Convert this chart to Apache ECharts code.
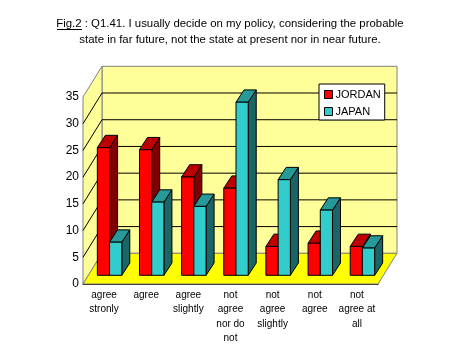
<!DOCTYPE html>
<html>
<head>
<meta charset="utf-8">
<style>
html, body { margin: 0; padding: 0; background: #fff; }
#chart { width: 463px; height: 357px; }
</style>
<script src="https://cdn.jsdelivr.net/npm/echarts@6/dist/echarts.min.js"></script>
</head>
<body>
<div id="chart"></div>
<script>
var categories = ['agree\nstronly', 'agree', 'agree\nslightly', 'not\nagree\nnor do\nnot', 'not\nagree\nslightly', 'not\nagree', 'not\nagree at\nall'];
var jordan = [23.9, 23.5, 18.4, 16.3, 5.4, 6, 5.4];
var japan = [6.2, 13.7, 12.9, 32.4, 17.9, 12.2, 5.1];
var yTicks = [0, 5, 10, 15, 20, 25, 30, 35];

var FONT = '"Liberation Sans", sans-serif';
// depth of the fake 3d box, and where the bars sit inside it
var DEPTH_X = 19, DEPTH_Y = 30.7;
var BAR_DX = 8, BAR_DY = 12.3, GAP_X = 5.5, GAP_Y = 8.7;

function poly(points, fill, stroke, width) {
    return {
        type: 'polygon',
        shape: { points: points },
        style: { fill: fill, stroke: stroke || 'none', lineWidth: width === undefined ? 1 : width }
    };
}

function line(x1, y1, x2, y2, color) {
    return {
        type: 'line',
        shape: { x1: x1, y1: y1, x2: x2, y2: y2 },
        style: { stroke: color, lineWidth: 1 }
    };
}

function renderWalls(params, api) {
    var c = params.coordSys;
    var left = c.x, right = c.x + c.width, top = c.y, bottom = c.y + c.height;
    var kids = [
        poly([[left + DEPTH_X, top - DEPTH_Y], [right + DEPTH_X, top - DEPTH_Y], [right + DEPTH_X, bottom - DEPTH_Y], [left + DEPTH_X, bottom - DEPTH_Y]], '#FFFF99', '#808080'),
        poly([[left, top], [left + DEPTH_X, top - DEPTH_Y], [left + DEPTH_X, bottom - DEPTH_Y], [left, bottom]], '#FFFF99', '#808080'),
        poly([[left, bottom], [right, bottom], [right + DEPTH_X, bottom - DEPTH_Y], [left + DEPTH_X, bottom - DEPTH_Y]], '#FFFF00', '#808080')
    ];
    yTicks.forEach(function (t) {
        if (t === 0 || t === 35) return;
        var y = api.coord([0, t])[1];
        kids.push(line(left, y, left + DEPTH_X, y - DEPTH_Y, '#000'));
        kids.push(line(left + DEPTH_X, y - DEPTH_Y, right + DEPTH_X, y - DEPTH_Y, '#000'));
    });
    return { type: 'group', children: kids };
}

function barRenderer(side, front, topFace, dark) {
    return function (params, api) {
        var idx = api.value(0);
        var base = api.coord([idx, 0]);
        var head = api.coord([idx, api.value(1)]);
        var w = api.size([1, 0])[0] * 0.29;
        var x1 = base[0] + GAP_X + (side === 0 ? -w : 0);
        var x2 = x1 + w;
        var yb = base[1] - GAP_Y;
        var yt = head[1] - GAP_Y;
        return {
            type: 'group',
            children: [
                poly([[x2, yt], [x2 + BAR_DX, yt - BAR_DY], [x2 + BAR_DX, yb - BAR_DY], [x2, yb]], dark, '#000'),
                poly([[x1, yt], [x1 + BAR_DX, yt - BAR_DY], [x2 + BAR_DX, yt - BAR_DY], [x2, yt]], topFace, '#000'),
                poly([[x1, yt], [x2, yt], [x2, yb], [x1, yb]], front, '#000')
            ]
        };
    };
}

var chart = echarts.init(document.getElementById('chart'), null, { renderer: 'canvas' });

chart.setOption({
    animation: false,
    backgroundColor: '#fff',
    textStyle: { fontFamily: FONT },
    title: {
        text: 'Fig.2 : Q1.41. I usually decide on my policy, considering the probable\nstate in far future, not the state at present nor in near future.',
        left: 230,
        top: 16,
        padding: 0,
        textAlign: 'center',
        textStyle: { fontFamily: FONT, fontSize: 11.4, fontWeight: 'normal', color: '#000', lineHeight: 16 }
    },
    legend: {
        orient: 'vertical',
        left: 319,
        top: 84,
        width: 66,
        padding: [5, 4, 3, 5],
        itemGap: 6,
        itemWidth: 8,
        itemHeight: 8,
        icon: 'rect',
        backgroundColor: '#fff',
        borderColor: '#000',
        borderWidth: 1,
        textStyle: { fontFamily: FONT, fontSize: 11, color: '#000', padding: [0, 0, 0, -2] },
        data: [
            { name: 'JORDAN', itemStyle: { color: '#FF0000', borderColor: '#000', borderWidth: 1 } },
            { name: 'JAPAN', itemStyle: { color: '#33CCCC', borderColor: '#000', borderWidth: 1 } }
        ]
    },
    grid: { left: 83, top: 97, width: 295, height: 187, containLabel: false },
    xAxis: {
        type: 'category',
        data: categories,
        axisLine: { lineStyle: { color: '#000', width: 1 } },
        axisTick: { inside: true, length: 4, alignWithLabel: false, lineStyle: { color: '#000' } },
        axisLabel: { interval: 0, color: '#000', fontFamily: FONT, fontSize: 10, lineHeight: 14.3, margin: 4 }
    },
    yAxis: {
        type: 'value',
        min: 0,
        max: 35,
        interval: 5,
        splitLine: { show: false },
        axisLine: { show: true, lineStyle: { color: '#000', width: 1 } },
        axisTick: { show: true, inside: true, length: 3, lineStyle: { color: '#000' } },
        axisLabel: { color: '#000', fontFamily: FONT, fontSize: 12, margin: 4, padding: [3, 0, 0, 0] }
    },
    graphic: [
        { type: 'line', shape: { x1: 57, y1: 29.5, x2: 82, y2: 29.5 }, style: { stroke: '#000', lineWidth: 1 }, z: 10 }
    ],
    series: [
        {
            type: 'custom',
            name: 'walls',
            z: 1,
            silent: true,
            renderItem: renderWalls,
            data: [[0, 0]],
            encode: { x: 0, y: 1 }
        },
        {
            type: 'custom',
            name: 'JORDAN',
            z: 2,
            silent: true,
            itemStyle: { color: '#FF0000' },
            renderItem: barRenderer(0, '#FF0000', '#BF0000', '#800000'),
            data: jordan.map(function (v, i) { return [i, v]; }),
            encode: { x: 0, y: 1 }
        },
        {
            type: 'custom',
            name: 'JAPAN',
            z: 3,
            silent: true,
            itemStyle: { color: '#33CCCC' },
            renderItem: barRenderer(1, '#33CCCC', '#269999', '#1A6666'),
            data: japan.map(function (v, i) { return [i, v]; }),
            encode: { x: 0, y: 1 }
        }
    ]
});
</script>
</body>
</html>
